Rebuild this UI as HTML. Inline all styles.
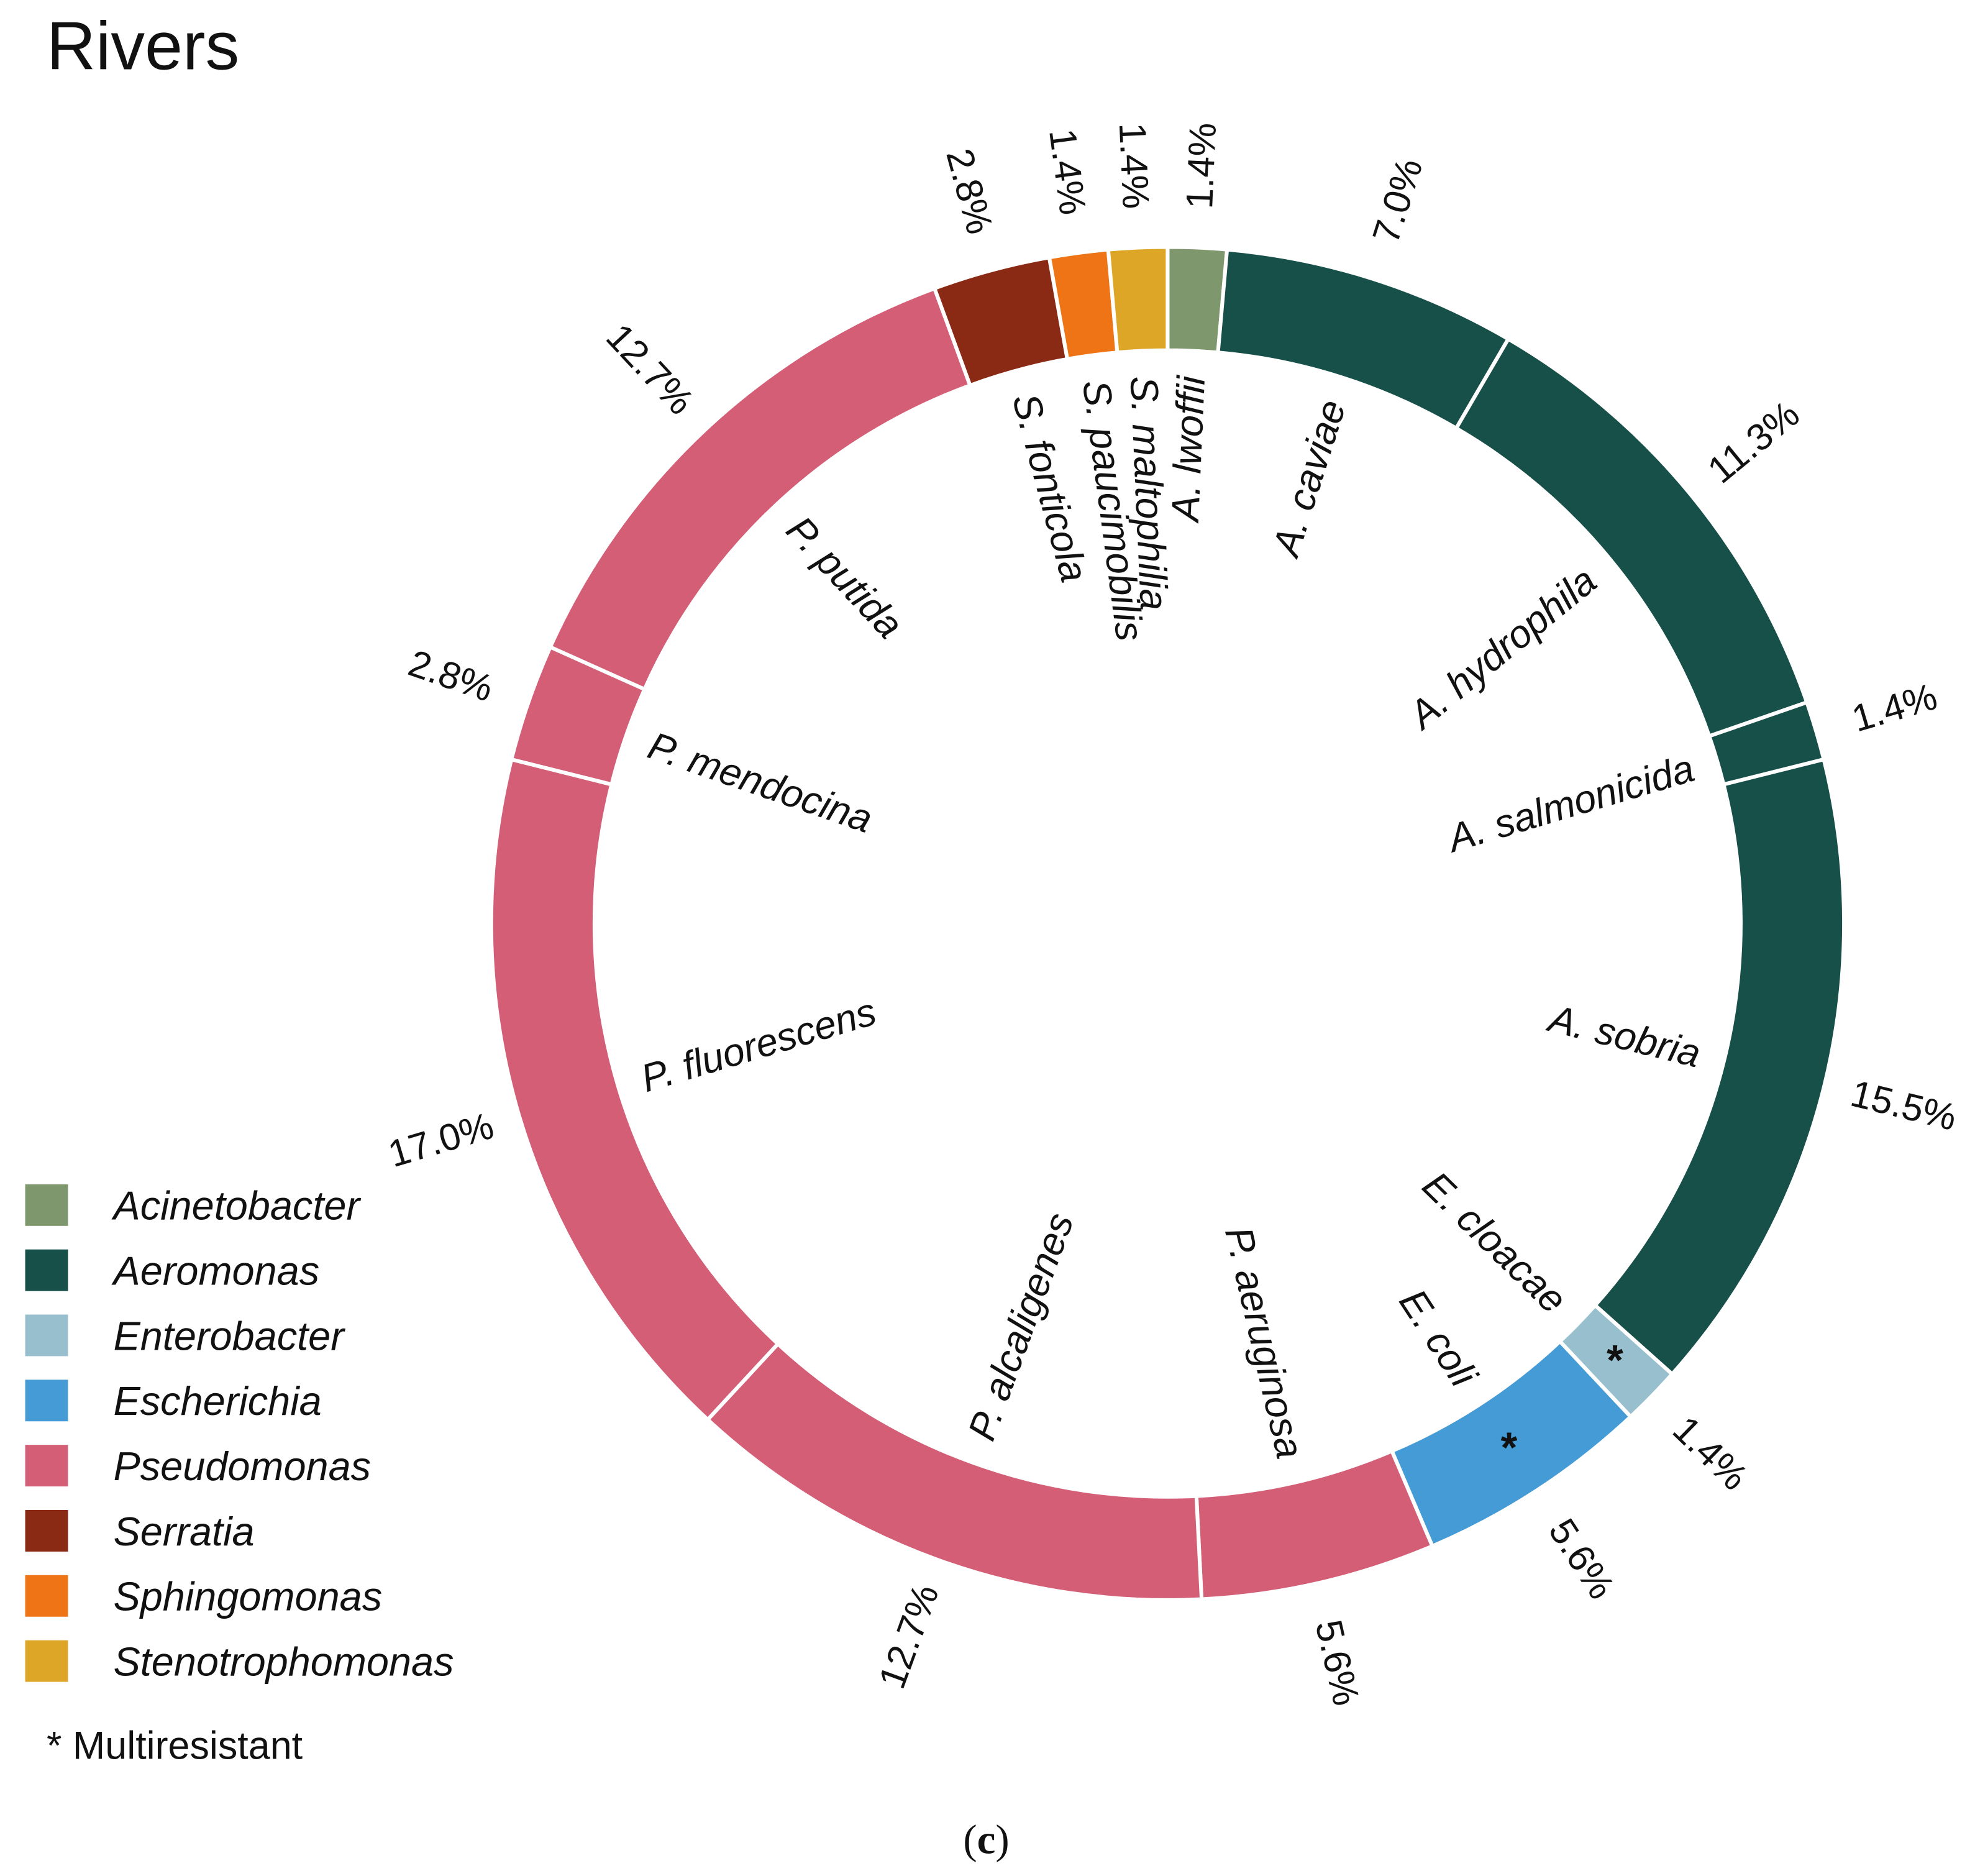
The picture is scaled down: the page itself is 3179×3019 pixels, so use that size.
<!DOCTYPE html>
<html><head><meta charset="utf-8"><style>
html,body{margin:0;padding:0;background:#fff;}
svg{display:block;}
</style></head><body>
<svg id="chart" width="3179" height="3019" viewBox="0 0 1568 1489" preserveAspectRatio="none" xmlns="http://www.w3.org/2000/svg">
<rect x="0" y="0" width="1568" height="1489" fill="#fff"/>
<text x="37" y="55" font-family="Liberation Sans, sans-serif" font-size="54" fill="#111">Rivers</text>
<g id="ring"></g>
<g id="labels"></g>
<g id="legend"></g>
<text x="37" y="1396" font-family="Liberation Sans, sans-serif" font-size="31" fill="#111">* Multiresistant</text>
<text x="783" y="1471" text-anchor="middle" font-family="Liberation Serif, serif" font-size="33" fill="#111">(<tspan font-weight="bold">c</tspan>)</text>
</svg>
<script>
const species = ["A. lwoffii","A. caviae","A. hydrophila","A. salmonicida","A. sobria","E. cloacae","E. coli","P. aeruginosa","P. alcaligenes","P. fluorescens","P. mendocina","P. putida","S. fonticola","S. paucimobilis","S. maltophilia"];
const percents = [1.4,7.0,11.3,1.4,15.5,1.4,5.6,5.6,12.7,17.0,2.8,12.7,2.8,1.4,1.4];
const genusOf = ["Acinetobacter","Aeromonas","Aeromonas","Aeromonas","Aeromonas","Enterobacter","Escherichia","Pseudomonas","Pseudomonas","Pseudomonas","Pseudomonas","Pseudomonas","Serratia","Sphingomonas","Stenotrophomonas"];
const multiresistant = [false,false,false,false,false,true,true,false,false,false,false,false,false,false,false];
const genera = ["Acinetobacter","Aeromonas","Enterobacter","Escherichia","Pseudomonas","Serratia","Sphingomonas","Stenotrophomonas"];
const genusColors = ["#7f976c","#174f49","#97bfcd","#449bd6","#d35e76","#8a2914","#ee7416","#dda626"];

const NS="http://www.w3.org/2000/svg";
const cx=927, cy=733, rOut=537, rIn=455, rLab=435, rPct=602;
const total = percents.reduce((a,b)=>a+b,0);
function angleOf(v){return v/total*360;}
function pt(r,aDeg){const a=aDeg*Math.PI/180;return [cx+r*Math.sin(a), cy-r*Math.cos(a)];}
const ring=document.getElementById('ring'), labels=document.getElementById('labels'), legend=document.getElementById('legend');
let cum=0;
species.forEach((sp,i)=>{
  const a0=angleOf(cum), a1=angleOf(cum+percents[i]); cum+=percents[i];
  const large=(a1-a0)>180?1:0;
  const p0=pt(rOut,a0),p1=pt(rOut,a1),p2=pt(rIn,a1),p3=pt(rIn,a0);
  const path=document.createElementNS(NS,'path');
  path.setAttribute('d',`M${p0[0]},${p0[1]} A${rOut},${rOut} 0 ${large} 1 ${p1[0]},${p1[1]} L${p2[0]},${p2[1]} A${rIn},${rIn} 0 ${large} 0 ${p3[0]},${p3[1]} Z`);
  path.setAttribute('fill',genusColors[genera.indexOf(genusOf[i])]);
  path.setAttribute('stroke','#fff');path.setAttribute('stroke-width','3');
  
  
  ring.appendChild(path);
  const am=(a0+a1)/2;
  const right=am<180;
  const rot=right?am-90:am-270;
  const lp=pt(rLab,am);
  const t=document.createElementNS(NS,'text');
  t.setAttribute('x',lp[0]);t.setAttribute('y',lp[1]);
  t.setAttribute('transform',`rotate(${rot} ${lp[0]} ${lp[1]})`);
  t.setAttribute('text-anchor',right?'end':'start');
  t.setAttribute('dominant-baseline','central');
  t.setAttribute('font-family','Liberation Sans, sans-serif');t.setAttribute('font-style','italic');
  t.setAttribute('font-size','31');t.setAttribute('fill','#111');
  t.textContent=sp;
  
  
  labels.appendChild(t);
  const pp=pt(rPct,am);
  const pt2=document.createElementNS(NS,'text');
  pt2.setAttribute('x',pp[0]);pt2.setAttribute('y',pp[1]);
  pt2.setAttribute('transform',`rotate(${rot} ${pp[0]} ${pp[1]})`);
  pt2.setAttribute('text-anchor','middle');pt2.setAttribute('dominant-baseline','central');
  pt2.setAttribute('font-family','Liberation Sans, sans-serif');pt2.setAttribute('font-size','30');pt2.setAttribute('fill','#111');
  pt2.textContent=percents[i].toFixed(1)+'%';
  
  
  labels.appendChild(pt2);
  if(multiresistant[i]){
    const sp2=pt((rIn+rOut)/2,am);
    const s=document.createElementNS(NS,'text');
    s.setAttribute('x',sp2[0]);s.setAttribute('y',sp2[1]+12);
    s.setAttribute('text-anchor','middle');
    s.setAttribute('font-family','Liberation Sans, sans-serif');s.setAttribute('font-size','34');s.setAttribute('font-weight','bold');s.setAttribute('fill','#111');
    s.textContent='*';
    
    
    labels.appendChild(s);
  }
});
genera.forEach((g,i)=>{
  const y=940+i*51.7;
  const r=document.createElementNS(NS,'rect');
  r.setAttribute('x',20);r.setAttribute('y',y);r.setAttribute('width',34);r.setAttribute('height',33);
  r.setAttribute('fill',genusColors[i]);
  
  
  legend.appendChild(r);
  const t=document.createElementNS(NS,'text');
  t.setAttribute('x',90);t.setAttribute('y',y+28);
  t.setAttribute('font-family','Liberation Sans, sans-serif');t.setAttribute('font-style','italic');t.setAttribute('font-size','32');t.setAttribute('fill','#111');
  t.textContent=g;
  
  
  legend.appendChild(t);
});
</script>
</body></html>
